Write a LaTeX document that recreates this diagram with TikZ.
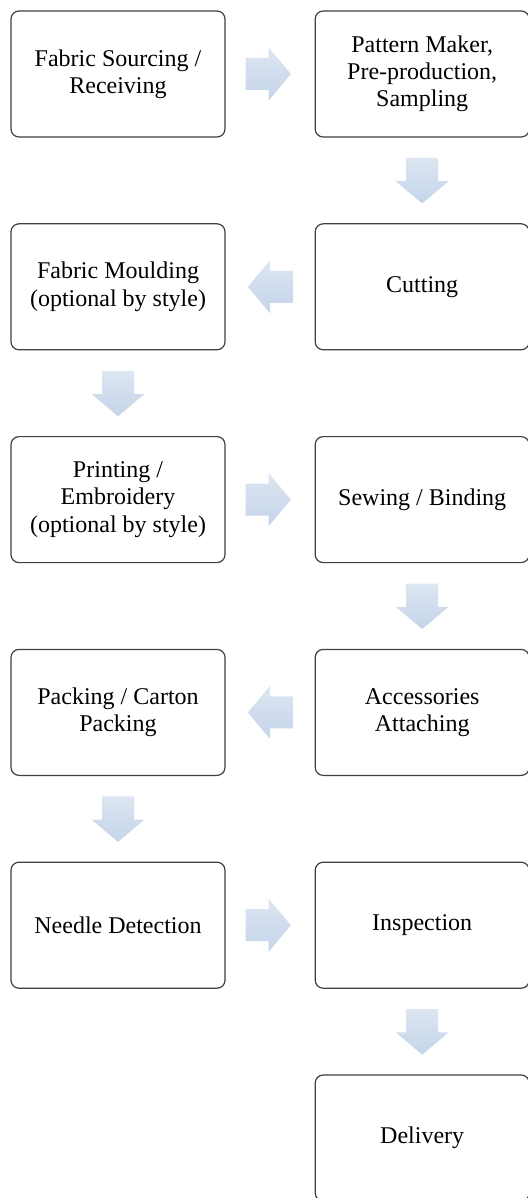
\documentclass[tikz,border=0pt]{standalone}
\usepackage{fontspec}
\setmainfont{Liberation Serif}
\usepackage{tikz}
\usetikzlibrary{positioning,calc,shapes.arrows}
\definecolor{stepline}{HTML}{404040}
\definecolor{arrowtop}{HTML}{DDE6F2}
\definecolor{arrowbottom}{HTML}{C4D4E9}
\tikzset{
  stepbox/.style={
    rounded corners=4pt,
    draw=stepline,
    fill=white,
    line width=0.6pt,
    minimum width=107pt,
    minimum height=63pt,
    align=center,
    font=\fontsize{12}{13.6}\selectfont
  },
  flowarrow/.style={
    single arrow,
    draw=none,
    top color=arrowtop,
    bottom color=arrowbottom,
    minimum height=22pt,
    inner sep=7.8pt,
    single arrow head extend=5.25pt,
    single arrow tip angle=100,
    anchor=tail
  }
}

\begin{document}
\begin{tikzpicture}[node distance=42.8pt and 44.5pt]
\useasboundingbox (0,0) rectangle (264pt,-599pt);
\node[stepbox] (fabric) at (59pt,-37pt) {Fabric Sourcing /\\Receiving};
\node[stepbox, right=of fabric] (pattern) {Pattern Maker,\\Pre-production,\\Sampling};
\node[stepbox, below=of pattern] (cutting) {Cutting};
\node[stepbox, below=of fabric] (moulding) {Fabric Moulding\\(optional by style)};
\node[stepbox, below=of moulding] (printing) {Printing /\\Embroidery\\(optional by style)};
\node[stepbox, below=of cutting] (sewing) {Sewing / Binding};
\node[stepbox, below=of sewing] (accessories) {Accessories\\Attaching};
\node[stepbox, below=of printing] (packing) {Packing / Carton\\Packing};
\node[stepbox, below=of packing] (needle) {Needle Detection};
\node[stepbox, below=of accessories] (inspection) {Inspection};
\node[stepbox, below=of inspection] (delivery) {Delivery};
% block arrows between the steps
\node[flowarrow] (a1) at ($(fabric.east)+(9.75pt,0)$) {};
\node[flowarrow, shape border rotate=270] (a2) at ($(pattern.south)+(0,-10pt)$) {};
\node[flowarrow, shape border rotate=180] (a3) at ($(cutting.west)+(-10.5pt,0)$) {};
\node[flowarrow, shape border rotate=270] (a4) at ($(moulding.south)+(0,-10pt)$) {};
\node[flowarrow] (a5) at ($(printing.east)+(9.75pt,0)$) {};
\node[flowarrow, shape border rotate=270] (a6) at ($(sewing.south)+(0,-10pt)$) {};
\node[flowarrow, shape border rotate=180] (a7) at ($(accessories.west)+(-10.5pt,0)$) {};
\node[flowarrow, shape border rotate=270] (a8) at ($(packing.south)+(0,-10pt)$) {};
\node[flowarrow] (a9) at ($(needle.east)+(9.75pt,0)$) {};
\node[flowarrow, shape border rotate=270] (a10) at ($(inspection.south)+(0,-10pt)$) {};
\end{tikzpicture}
\end{document}
